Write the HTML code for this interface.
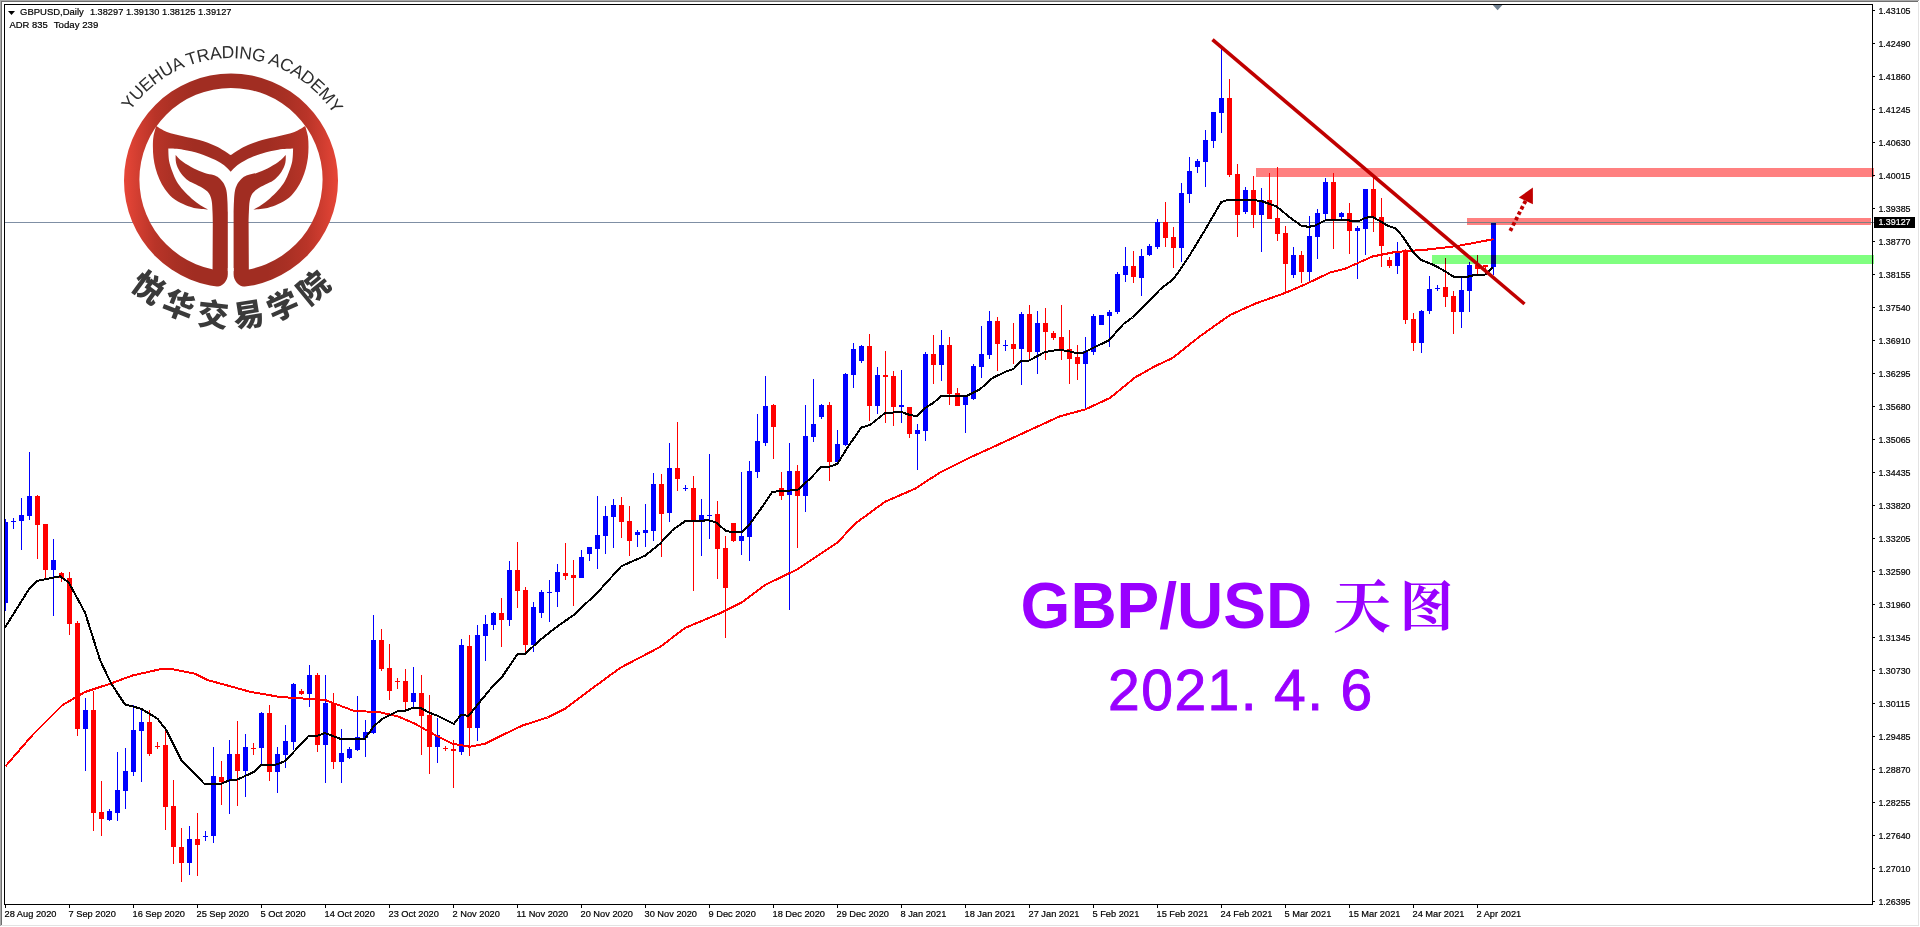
<!DOCTYPE html>
<html><head><meta charset="utf-8"><title>GBPUSD Daily</title>
<style>
html,body{margin:0;padding:0;background:#fff;overflow:hidden}
svg{display:block}
text{font-family:"Liberation Sans",sans-serif}
.ax{font-size:9.25px;fill:#000;stroke:#000;stroke-width:0.2px}
.tl{font-size:9.7px;fill:#000;stroke:#000;stroke-width:0.2px}
.cjk{font-family:"Liberation Sans","Noto Sans CJK SC",sans-serif}
.kai{font-family:"Liberation Serif","Noto Serif CJK SC",serif}
</style></head><body>
<svg width="1920" height="927" viewBox="0 0 1920 927">
<defs>
<linearGradient id="lg" gradientUnits="userSpaceOnUse" x1="124" y1="0" x2="338" y2="0"><stop offset="0" stop-color="#e74637"/><stop offset="0.07" stop-color="#d03d30"/><stop offset="0.145" stop-color="#b93428"/><stop offset="0.24" stop-color="#a93024"/><stop offset="0.33" stop-color="#a12d22"/><stop offset="0.67" stop-color="#a12d22"/><stop offset="0.76" stop-color="#a93024"/><stop offset="0.855" stop-color="#b93428"/><stop offset="0.93" stop-color="#d03d30"/><stop offset="1" stop-color="#e74637"/></linearGradient>
<path id="arcTop" d="M 108.5 180.6 A 122.5 122.5 0 0 1 353.5 180.6"/>
<path id="arcBot" d="M 84.5 180.6 A 146.5 146.5 0 0 0 377.5 180.6"/>
</defs>
<rect width="1920" height="927" fill="#fff"/>
<g shape-rendering="crispEdges">
<rect x="0" y="0" width="1919" height="1" fill="#a9a9a9"/><rect x="0" y="0" width="1" height="926" fill="#a9a9a9"/>
<rect x="1" y="1" width="1917" height="1" fill="#6e6e6e"/><rect x="1" y="1" width="1" height="924" fill="#6e6e6e"/>
<rect x="1" y="925" width="1918" height="1" fill="#e3e3e3"/><rect x="1918" y="2" width="1" height="924" fill="#e3e3e3"/>
<rect x="5" y="222" width="1869" height="1" fill="#7f8fa4"/>
<rect x="4" y="4" width="1869" height="1" fill="#000"/><rect x="4" y="4" width="1" height="901" fill="#000"/><rect x="4" y="904" width="1869" height="1" fill="#000"/><rect x="1872" y="4" width="1" height="901" fill="#000"/>
<rect x="1873" y="10" width="2" height="1" fill="#000"/><rect x="1873" y="43" width="2" height="1" fill="#000"/><rect x="1873" y="76" width="2" height="1" fill="#000"/><rect x="1873" y="109" width="2" height="1" fill="#000"/><rect x="1873" y="142" width="2" height="1" fill="#000"/><rect x="1873" y="175" width="2" height="1" fill="#000"/><rect x="1873" y="208" width="2" height="1" fill="#000"/><rect x="1873" y="241" width="2" height="1" fill="#000"/><rect x="1873" y="274" width="2" height="1" fill="#000"/><rect x="1873" y="307" width="2" height="1" fill="#000"/><rect x="1873" y="340" width="2" height="1" fill="#000"/><rect x="1873" y="373" width="2" height="1" fill="#000"/><rect x="1873" y="406" width="2" height="1" fill="#000"/><rect x="1873" y="439" width="2" height="1" fill="#000"/><rect x="1873" y="472" width="2" height="1" fill="#000"/><rect x="1873" y="505" width="2" height="1" fill="#000"/><rect x="1873" y="538" width="2" height="1" fill="#000"/><rect x="1873" y="571" width="2" height="1" fill="#000"/><rect x="1873" y="604" width="2" height="1" fill="#000"/><rect x="1873" y="637" width="2" height="1" fill="#000"/><rect x="1873" y="670" width="2" height="1" fill="#000"/><rect x="1873" y="703" width="2" height="1" fill="#000"/><rect x="1873" y="736" width="2" height="1" fill="#000"/><rect x="1873" y="769" width="2" height="1" fill="#000"/><rect x="1873" y="802" width="2" height="1" fill="#000"/><rect x="1873" y="835" width="2" height="1" fill="#000"/><rect x="1873" y="868" width="2" height="1" fill="#000"/><rect x="1873" y="901" width="2" height="1" fill="#000"/>
<rect x="5" y="905" width="1" height="3" fill="#000"/><rect x="69" y="905" width="1" height="3" fill="#000"/><rect x="133" y="905" width="1" height="3" fill="#000"/><rect x="197" y="905" width="1" height="3" fill="#000"/><rect x="261" y="905" width="1" height="3" fill="#000"/><rect x="325" y="905" width="1" height="3" fill="#000"/><rect x="389" y="905" width="1" height="3" fill="#000"/><rect x="453" y="905" width="1" height="3" fill="#000"/><rect x="517" y="905" width="1" height="3" fill="#000"/><rect x="581" y="905" width="1" height="3" fill="#000"/><rect x="645" y="905" width="1" height="3" fill="#000"/><rect x="709" y="905" width="1" height="3" fill="#000"/><rect x="773" y="905" width="1" height="3" fill="#000"/><rect x="837" y="905" width="1" height="3" fill="#000"/><rect x="901" y="905" width="1" height="3" fill="#000"/><rect x="965" y="905" width="1" height="3" fill="#000"/><rect x="1029" y="905" width="1" height="3" fill="#000"/><rect x="1093" y="905" width="1" height="3" fill="#000"/><rect x="1157" y="905" width="1" height="3" fill="#000"/><rect x="1221" y="905" width="1" height="3" fill="#000"/><rect x="1285" y="905" width="1" height="3" fill="#000"/><rect x="1349" y="905" width="1" height="3" fill="#000"/><rect x="1413" y="905" width="1" height="3" fill="#000"/><rect x="1477" y="905" width="1" height="3" fill="#000"/>
<polygon points="1492.8,5 1502.4,5 1497.6,10.3" fill="#708090" shape-rendering="auto"/>
<rect x="5" y="519" width="1" height="92" fill="#0000ff"/><rect x="5" y="522" width="3" height="81" fill="#0000ff"/><rect x="13" y="518" width="1" height="11" fill="#0000ff"/><rect x="11" y="521" width="5" height="1" fill="#0000ff"/><rect x="21" y="498" width="1" height="52" fill="#0000ff"/><rect x="19" y="515" width="5" height="6" fill="#0000ff"/><rect x="29" y="452" width="1" height="68" fill="#0000ff"/><rect x="27" y="496" width="5" height="20" fill="#0000ff"/><rect x="37" y="495" width="1" height="64" fill="#ff0000"/><rect x="35" y="496" width="5" height="29" fill="#ff0000"/><rect x="45" y="524" width="1" height="55" fill="#ff0000"/><rect x="43" y="524" width="5" height="46" fill="#ff0000"/>
<rect x="53" y="539" width="1" height="77" fill="#0000ff"/><rect x="51" y="560" width="5" height="10" fill="#0000ff"/><rect x="61" y="572" width="1" height="10" fill="#ff0000"/><rect x="59" y="573" width="5" height="5" fill="#ff0000"/><rect x="69" y="572" width="1" height="63" fill="#ff0000"/><rect x="67" y="578" width="5" height="46" fill="#ff0000"/><rect x="77" y="621" width="1" height="115" fill="#ff0000"/><rect x="75" y="623" width="5" height="106" fill="#ff0000"/><rect x="85" y="698" width="1" height="73" fill="#0000ff"/><rect x="83" y="710" width="5" height="19" fill="#0000ff"/><rect x="93" y="691" width="1" height="140" fill="#ff0000"/><rect x="91" y="710" width="5" height="103" fill="#ff0000"/>
<rect x="101" y="781" width="1" height="55" fill="#ff0000"/><rect x="99" y="812" width="5" height="7" fill="#ff0000"/><rect x="109" y="809" width="1" height="12" fill="#0000ff"/><rect x="107" y="811" width="5" height="9" fill="#0000ff"/><rect x="117" y="752" width="1" height="69" fill="#0000ff"/><rect x="115" y="790" width="5" height="23" fill="#0000ff"/><rect x="125" y="748" width="1" height="61" fill="#0000ff"/><rect x="123" y="771" width="5" height="20" fill="#0000ff"/><rect x="133" y="705" width="1" height="71" fill="#0000ff"/><rect x="131" y="730" width="5" height="42" fill="#0000ff"/><rect x="141" y="708" width="1" height="74" fill="#0000ff"/><rect x="139" y="722" width="5" height="9" fill="#0000ff"/>
<rect x="149" y="710" width="1" height="46" fill="#ff0000"/><rect x="147" y="722" width="5" height="32" fill="#ff0000"/><rect x="157" y="742" width="1" height="7" fill="#ff0000"/><rect x="155" y="746" width="5" height="1" fill="#ff0000"/><rect x="165" y="731" width="1" height="99" fill="#ff0000"/><rect x="163" y="745" width="5" height="62" fill="#ff0000"/><rect x="173" y="780" width="1" height="84" fill="#ff0000"/><rect x="171" y="806" width="5" height="41" fill="#ff0000"/><rect x="181" y="828" width="1" height="54" fill="#ff0000"/><rect x="179" y="847" width="5" height="16" fill="#ff0000"/><rect x="189" y="826" width="1" height="49" fill="#0000ff"/><rect x="187" y="839" width="5" height="24" fill="#0000ff"/>
<rect x="197" y="813" width="1" height="63" fill="#ff0000"/><rect x="195" y="839" width="5" height="6" fill="#ff0000"/><rect x="205" y="831" width="1" height="10" fill="#0000ff"/><rect x="203" y="836" width="5" height="1" fill="#0000ff"/><rect x="213" y="747" width="1" height="96" fill="#0000ff"/><rect x="211" y="776" width="5" height="60" fill="#0000ff"/><rect x="221" y="761" width="1" height="44" fill="#ff0000"/><rect x="219" y="777" width="5" height="5" fill="#ff0000"/><rect x="229" y="740" width="1" height="74" fill="#0000ff"/><rect x="227" y="754" width="5" height="26" fill="#0000ff"/><rect x="237" y="721" width="1" height="85" fill="#ff0000"/><rect x="235" y="754" width="5" height="17" fill="#ff0000"/>
<rect x="245" y="734" width="1" height="63" fill="#0000ff"/><rect x="243" y="747" width="5" height="24" fill="#0000ff"/><rect x="253" y="743" width="1" height="12" fill="#ff0000"/><rect x="251" y="748" width="5" height="1" fill="#ff0000"/><rect x="261" y="712" width="1" height="53" fill="#0000ff"/><rect x="259" y="713" width="5" height="35" fill="#0000ff"/><rect x="269" y="705" width="1" height="76" fill="#ff0000"/><rect x="267" y="713" width="5" height="59" fill="#ff0000"/><rect x="277" y="747" width="1" height="46" fill="#0000ff"/><rect x="275" y="754" width="5" height="18" fill="#0000ff"/><rect x="285" y="725" width="1" height="43" fill="#0000ff"/><rect x="283" y="741" width="5" height="14" fill="#0000ff"/>
<rect x="293" y="683" width="1" height="67" fill="#0000ff"/><rect x="291" y="684" width="5" height="58" fill="#0000ff"/><rect x="301" y="689" width="1" height="6" fill="#ff0000"/><rect x="299" y="691" width="5" height="3" fill="#ff0000"/><rect x="309" y="665" width="1" height="42" fill="#0000ff"/><rect x="307" y="675" width="5" height="19" fill="#0000ff"/><rect x="317" y="673" width="1" height="79" fill="#ff0000"/><rect x="315" y="675" width="5" height="70" fill="#ff0000"/><rect x="325" y="675" width="1" height="108" fill="#0000ff"/><rect x="323" y="703" width="5" height="42" fill="#0000ff"/><rect x="333" y="693" width="1" height="76" fill="#ff0000"/><rect x="331" y="703" width="5" height="59" fill="#ff0000"/>
<rect x="341" y="729" width="1" height="54" fill="#0000ff"/><rect x="339" y="753" width="5" height="9" fill="#0000ff"/><rect x="349" y="747" width="1" height="12" fill="#0000ff"/><rect x="347" y="749" width="5" height="9" fill="#0000ff"/><rect x="357" y="696" width="1" height="55" fill="#0000ff"/><rect x="355" y="737" width="5" height="13" fill="#0000ff"/><rect x="365" y="720" width="1" height="37" fill="#0000ff"/><rect x="363" y="732" width="5" height="6" fill="#0000ff"/><rect x="373" y="615" width="1" height="119" fill="#0000ff"/><rect x="371" y="640" width="5" height="93" fill="#0000ff"/><rect x="381" y="629" width="1" height="42" fill="#ff0000"/><rect x="379" y="640" width="5" height="29" fill="#ff0000"/>
<rect x="389" y="644" width="1" height="56" fill="#ff0000"/><rect x="387" y="668" width="5" height="23" fill="#ff0000"/><rect x="397" y="678" width="1" height="11" fill="#ff0000"/><rect x="395" y="681" width="5" height="1" fill="#ff0000"/><rect x="405" y="669" width="1" height="41" fill="#ff0000"/><rect x="403" y="681" width="5" height="21" fill="#ff0000"/><rect x="413" y="667" width="1" height="41" fill="#0000ff"/><rect x="411" y="693" width="5" height="9" fill="#0000ff"/><rect x="421" y="675" width="1" height="80" fill="#ff0000"/><rect x="419" y="693" width="5" height="23" fill="#ff0000"/><rect x="429" y="695" width="1" height="79" fill="#ff0000"/><rect x="427" y="715" width="5" height="32" fill="#ff0000"/>
<rect x="437" y="718" width="1" height="45" fill="#0000ff"/><rect x="435" y="735" width="5" height="12" fill="#0000ff"/><rect x="445" y="746" width="1" height="5" fill="#ff0000"/><rect x="443" y="748" width="5" height="1" fill="#ff0000"/><rect x="453" y="740" width="1" height="48" fill="#ff0000"/><rect x="451" y="749" width="5" height="2" fill="#ff0000"/><rect x="461" y="639" width="1" height="116" fill="#0000ff"/><rect x="459" y="645" width="5" height="107" fill="#0000ff"/><rect x="469" y="635" width="1" height="121" fill="#ff0000"/><rect x="467" y="646" width="5" height="82" fill="#ff0000"/><rect x="477" y="625" width="1" height="116" fill="#0000ff"/><rect x="475" y="635" width="5" height="93" fill="#0000ff"/>
<rect x="485" y="615" width="1" height="46" fill="#0000ff"/><rect x="483" y="624" width="5" height="12" fill="#0000ff"/><rect x="493" y="612" width="1" height="18" fill="#0000ff"/><rect x="491" y="613" width="5" height="12" fill="#0000ff"/><rect x="501" y="598" width="1" height="49" fill="#ff0000"/><rect x="499" y="613" width="5" height="7" fill="#ff0000"/><rect x="509" y="561" width="1" height="65" fill="#0000ff"/><rect x="507" y="570" width="5" height="50" fill="#0000ff"/><rect x="517" y="542" width="1" height="66" fill="#ff0000"/><rect x="515" y="570" width="5" height="21" fill="#ff0000"/><rect x="525" y="587" width="1" height="65" fill="#ff0000"/><rect x="523" y="590" width="5" height="55" fill="#ff0000"/>
<rect x="533" y="602" width="1" height="50" fill="#0000ff"/><rect x="531" y="607" width="5" height="38" fill="#0000ff"/><rect x="541" y="590" width="1" height="28" fill="#0000ff"/><rect x="539" y="592" width="5" height="21" fill="#0000ff"/><rect x="549" y="580" width="1" height="42" fill="#0000ff"/><rect x="547" y="592" width="5" height="1" fill="#0000ff"/><rect x="557" y="564" width="1" height="43" fill="#0000ff"/><rect x="555" y="572" width="5" height="20" fill="#0000ff"/><rect x="565" y="543" width="1" height="37" fill="#ff0000"/><rect x="563" y="573" width="5" height="3" fill="#ff0000"/><rect x="573" y="560" width="1" height="46" fill="#ff0000"/><rect x="571" y="575" width="5" height="3" fill="#ff0000"/>
<rect x="581" y="550" width="1" height="28" fill="#0000ff"/><rect x="579" y="557" width="5" height="21" fill="#0000ff"/><rect x="589" y="547" width="1" height="14" fill="#0000ff"/><rect x="587" y="547" width="5" height="7" fill="#0000ff"/><rect x="597" y="496" width="1" height="73" fill="#0000ff"/><rect x="595" y="535" width="5" height="14" fill="#0000ff"/><rect x="605" y="506" width="1" height="48" fill="#0000ff"/><rect x="603" y="516" width="5" height="20" fill="#0000ff"/><rect x="613" y="499" width="1" height="49" fill="#0000ff"/><rect x="611" y="505" width="5" height="12" fill="#0000ff"/><rect x="621" y="497" width="1" height="41" fill="#ff0000"/><rect x="619" y="505" width="5" height="17" fill="#ff0000"/>
<rect x="629" y="506" width="1" height="50" fill="#ff0000"/><rect x="627" y="521" width="5" height="20" fill="#ff0000"/><rect x="637" y="530" width="1" height="17" fill="#0000ff"/><rect x="635" y="532" width="5" height="3" fill="#0000ff"/><rect x="645" y="504" width="1" height="43" fill="#0000ff"/><rect x="643" y="530" width="5" height="3" fill="#0000ff"/><rect x="653" y="473" width="1" height="68" fill="#0000ff"/><rect x="651" y="484" width="5" height="47" fill="#0000ff"/><rect x="661" y="474" width="1" height="83" fill="#ff0000"/><rect x="659" y="484" width="5" height="30" fill="#ff0000"/><rect x="669" y="443" width="1" height="79" fill="#0000ff"/><rect x="667" y="468" width="5" height="45" fill="#0000ff"/>
<rect x="677" y="422" width="1" height="69" fill="#ff0000"/><rect x="675" y="468" width="5" height="11" fill="#ff0000"/><rect x="685" y="485" width="1" height="6" fill="#0000ff"/><rect x="683" y="488" width="5" height="1" fill="#0000ff"/><rect x="693" y="476" width="1" height="115" fill="#ff0000"/><rect x="691" y="488" width="5" height="33" fill="#ff0000"/><rect x="701" y="499" width="1" height="57" fill="#0000ff"/><rect x="699" y="515" width="5" height="6" fill="#0000ff"/><rect x="709" y="454" width="1" height="85" fill="#0000ff"/><rect x="707" y="515" width="5" height="1" fill="#0000ff"/><rect x="717" y="501" width="1" height="78" fill="#ff0000"/><rect x="715" y="514" width="5" height="35" fill="#ff0000"/>
<rect x="725" y="536" width="1" height="102" fill="#ff0000"/><rect x="723" y="548" width="5" height="40" fill="#ff0000"/><rect x="733" y="523" width="1" height="19" fill="#ff0000"/><rect x="731" y="523" width="5" height="18" fill="#ff0000"/><rect x="741" y="472" width="1" height="83" fill="#0000ff"/><rect x="739" y="536" width="5" height="5" fill="#0000ff"/><rect x="749" y="461" width="1" height="100" fill="#0000ff"/><rect x="747" y="471" width="5" height="66" fill="#0000ff"/><rect x="757" y="414" width="1" height="64" fill="#0000ff"/><rect x="755" y="441" width="5" height="31" fill="#0000ff"/><rect x="765" y="376" width="1" height="70" fill="#0000ff"/><rect x="763" y="406" width="5" height="37" fill="#0000ff"/>
<rect x="773" y="404" width="1" height="55" fill="#ff0000"/><rect x="771" y="405" width="5" height="22" fill="#ff0000"/><rect x="781" y="472" width="1" height="28" fill="#ff0000"/><rect x="779" y="488" width="5" height="8" fill="#ff0000"/><rect x="789" y="443" width="1" height="167" fill="#0000ff"/><rect x="787" y="471" width="5" height="24" fill="#0000ff"/><rect x="797" y="465" width="1" height="83" fill="#ff0000"/><rect x="795" y="471" width="5" height="25" fill="#ff0000"/><rect x="805" y="405" width="1" height="107" fill="#0000ff"/><rect x="803" y="436" width="5" height="60" fill="#0000ff"/><rect x="813" y="379" width="1" height="63" fill="#0000ff"/><rect x="811" y="424" width="5" height="13" fill="#0000ff"/>
<rect x="821" y="404" width="1" height="15" fill="#0000ff"/><rect x="819" y="405" width="5" height="12" fill="#0000ff"/><rect x="829" y="402" width="1" height="79" fill="#ff0000"/><rect x="827" y="405" width="5" height="57" fill="#ff0000"/><rect x="837" y="430" width="1" height="33" fill="#0000ff"/><rect x="835" y="444" width="5" height="18" fill="#0000ff"/><rect x="845" y="373" width="1" height="73" fill="#0000ff"/><rect x="843" y="374" width="5" height="71" fill="#0000ff"/><rect x="853" y="343" width="1" height="45" fill="#0000ff"/><rect x="851" y="349" width="5" height="26" fill="#0000ff"/><rect x="861" y="345" width="1" height="18" fill="#0000ff"/><rect x="859" y="346" width="5" height="15" fill="#0000ff"/>
<rect x="869" y="334" width="1" height="87" fill="#ff0000"/><rect x="867" y="346" width="5" height="60" fill="#ff0000"/><rect x="877" y="367" width="1" height="47" fill="#0000ff"/><rect x="875" y="375" width="5" height="31" fill="#0000ff"/><rect x="885" y="351" width="1" height="72" fill="#ff0000"/><rect x="883" y="375" width="5" height="2" fill="#ff0000"/><rect x="893" y="371" width="1" height="55" fill="#ff0000"/><rect x="891" y="376" width="5" height="31" fill="#ff0000"/><rect x="901" y="370" width="1" height="53" fill="#0000ff"/><rect x="899" y="405" width="5" height="2" fill="#0000ff"/><rect x="909" y="407" width="1" height="31" fill="#ff0000"/><rect x="907" y="407" width="5" height="27" fill="#ff0000"/>
<rect x="917" y="424" width="1" height="46" fill="#0000ff"/><rect x="915" y="430" width="5" height="4" fill="#0000ff"/><rect x="925" y="352" width="1" height="89" fill="#0000ff"/><rect x="923" y="354" width="5" height="77" fill="#0000ff"/><rect x="933" y="335" width="1" height="49" fill="#ff0000"/><rect x="931" y="354" width="5" height="11" fill="#ff0000"/><rect x="941" y="330" width="1" height="51" fill="#0000ff"/><rect x="939" y="345" width="5" height="20" fill="#0000ff"/><rect x="949" y="337" width="1" height="68" fill="#ff0000"/><rect x="947" y="345" width="5" height="49" fill="#ff0000"/><rect x="957" y="388" width="1" height="18" fill="#ff0000"/><rect x="955" y="393" width="5" height="13" fill="#ff0000"/>
<rect x="965" y="395" width="1" height="38" fill="#0000ff"/><rect x="963" y="395" width="5" height="10" fill="#0000ff"/><rect x="973" y="364" width="1" height="36" fill="#0000ff"/><rect x="971" y="366" width="5" height="33" fill="#0000ff"/><rect x="981" y="326" width="1" height="52" fill="#0000ff"/><rect x="979" y="354" width="5" height="13" fill="#0000ff"/><rect x="989" y="311" width="1" height="48" fill="#0000ff"/><rect x="987" y="321" width="5" height="34" fill="#0000ff"/><rect x="997" y="317" width="1" height="54" fill="#ff0000"/><rect x="995" y="321" width="5" height="23" fill="#ff0000"/><rect x="1005" y="340" width="1" height="11" fill="#0000ff"/><rect x="1003" y="345" width="5" height="1" fill="#0000ff"/>
<rect x="1013" y="323" width="1" height="41" fill="#ff0000"/><rect x="1011" y="344" width="5" height="5" fill="#ff0000"/><rect x="1021" y="312" width="1" height="73" fill="#0000ff"/><rect x="1019" y="314" width="5" height="35" fill="#0000ff"/><rect x="1029" y="305" width="1" height="55" fill="#ff0000"/><rect x="1027" y="314" width="5" height="38" fill="#ff0000"/><rect x="1037" y="311" width="1" height="63" fill="#0000ff"/><rect x="1035" y="323" width="5" height="29" fill="#0000ff"/><rect x="1045" y="308" width="1" height="52" fill="#ff0000"/><rect x="1043" y="323" width="5" height="9" fill="#ff0000"/><rect x="1053" y="331" width="1" height="9" fill="#ff0000"/><rect x="1051" y="333" width="5" height="5" fill="#ff0000"/>
<rect x="1061" y="305" width="1" height="55" fill="#ff0000"/><rect x="1059" y="337" width="5" height="13" fill="#ff0000"/><rect x="1069" y="330" width="1" height="54" fill="#ff0000"/><rect x="1067" y="349" width="5" height="10" fill="#ff0000"/><rect x="1077" y="345" width="1" height="35" fill="#ff0000"/><rect x="1075" y="357" width="5" height="7" fill="#ff0000"/><rect x="1085" y="337" width="1" height="71" fill="#0000ff"/><rect x="1083" y="351" width="5" height="13" fill="#0000ff"/><rect x="1093" y="314" width="1" height="41" fill="#0000ff"/><rect x="1091" y="316" width="5" height="36" fill="#0000ff"/><rect x="1101" y="315" width="1" height="10" fill="#0000ff"/><rect x="1099" y="315" width="5" height="10" fill="#0000ff"/>
<rect x="1109" y="310" width="1" height="37" fill="#0000ff"/><rect x="1107" y="312" width="5" height="4" fill="#0000ff"/><rect x="1117" y="272" width="1" height="42" fill="#0000ff"/><rect x="1115" y="274" width="5" height="38" fill="#0000ff"/><rect x="1125" y="247" width="1" height="35" fill="#0000ff"/><rect x="1123" y="266" width="5" height="9" fill="#0000ff"/><rect x="1133" y="251" width="1" height="32" fill="#ff0000"/><rect x="1131" y="266" width="5" height="11" fill="#ff0000"/><rect x="1141" y="249" width="1" height="47" fill="#0000ff"/><rect x="1139" y="256" width="5" height="22" fill="#0000ff"/><rect x="1149" y="244" width="1" height="12" fill="#0000ff"/><rect x="1147" y="246" width="5" height="9" fill="#0000ff"/>
<rect x="1157" y="219" width="1" height="30" fill="#0000ff"/><rect x="1155" y="222" width="5" height="25" fill="#0000ff"/><rect x="1165" y="202" width="1" height="45" fill="#ff0000"/><rect x="1163" y="222" width="5" height="16" fill="#ff0000"/><rect x="1173" y="227" width="1" height="41" fill="#ff0000"/><rect x="1171" y="237" width="5" height="11" fill="#ff0000"/><rect x="1181" y="183" width="1" height="79" fill="#0000ff"/><rect x="1179" y="193" width="5" height="55" fill="#0000ff"/><rect x="1189" y="157" width="1" height="46" fill="#0000ff"/><rect x="1187" y="171" width="5" height="23" fill="#0000ff"/><rect x="1197" y="159" width="1" height="14" fill="#0000ff"/><rect x="1195" y="161" width="5" height="6" fill="#0000ff"/>
<rect x="1205" y="130" width="1" height="57" fill="#0000ff"/><rect x="1203" y="140" width="5" height="22" fill="#0000ff"/><rect x="1213" y="112" width="1" height="36" fill="#0000ff"/><rect x="1211" y="112" width="5" height="29" fill="#0000ff"/><rect x="1221" y="49" width="1" height="84" fill="#0000ff"/><rect x="1219" y="98" width="5" height="15" fill="#0000ff"/><rect x="1229" y="79" width="1" height="98" fill="#ff0000"/><rect x="1227" y="98" width="5" height="77" fill="#ff0000"/><rect x="1237" y="164" width="1" height="73" fill="#ff0000"/><rect x="1235" y="174" width="5" height="41" fill="#ff0000"/><rect x="1245" y="187" width="1" height="27" fill="#0000ff"/><rect x="1243" y="190" width="5" height="22" fill="#0000ff"/>
<rect x="1253" y="176" width="1" height="52" fill="#ff0000"/><rect x="1251" y="190" width="5" height="25" fill="#ff0000"/><rect x="1261" y="188" width="1" height="64" fill="#0000ff"/><rect x="1259" y="200" width="5" height="15" fill="#0000ff"/><rect x="1269" y="173" width="1" height="46" fill="#ff0000"/><rect x="1267" y="200" width="5" height="19" fill="#ff0000"/><rect x="1277" y="167" width="1" height="74" fill="#ff0000"/><rect x="1275" y="218" width="5" height="16" fill="#ff0000"/><rect x="1285" y="226" width="1" height="67" fill="#ff0000"/><rect x="1283" y="233" width="5" height="31" fill="#ff0000"/><rect x="1293" y="247" width="1" height="31" fill="#0000ff"/><rect x="1291" y="255" width="5" height="20" fill="#0000ff"/>
<rect x="1301" y="251" width="1" height="32" fill="#ff0000"/><rect x="1299" y="255" width="5" height="17" fill="#ff0000"/><rect x="1309" y="216" width="1" height="66" fill="#0000ff"/><rect x="1307" y="236" width="5" height="36" fill="#0000ff"/><rect x="1317" y="209" width="1" height="50" fill="#0000ff"/><rect x="1315" y="213" width="5" height="24" fill="#0000ff"/><rect x="1325" y="178" width="1" height="42" fill="#0000ff"/><rect x="1323" y="182" width="5" height="32" fill="#0000ff"/><rect x="1333" y="173" width="1" height="76" fill="#ff0000"/><rect x="1331" y="182" width="5" height="38" fill="#ff0000"/><rect x="1341" y="212" width="1" height="7" fill="#0000ff"/><rect x="1339" y="213" width="5" height="4" fill="#0000ff"/>
<rect x="1349" y="203" width="1" height="51" fill="#ff0000"/><rect x="1347" y="213" width="5" height="18" fill="#ff0000"/><rect x="1357" y="226" width="1" height="53" fill="#0000ff"/><rect x="1355" y="228" width="5" height="3" fill="#0000ff"/><rect x="1365" y="189" width="1" height="66" fill="#0000ff"/><rect x="1363" y="189" width="5" height="40" fill="#0000ff"/><rect x="1373" y="175" width="1" height="57" fill="#ff0000"/><rect x="1371" y="189" width="5" height="28" fill="#ff0000"/><rect x="1381" y="198" width="1" height="69" fill="#ff0000"/><rect x="1379" y="217" width="5" height="29" fill="#ff0000"/><rect x="1389" y="257" width="1" height="11" fill="#ff0000"/><rect x="1387" y="260" width="5" height="6" fill="#ff0000"/>
<rect x="1397" y="242" width="1" height="32" fill="#0000ff"/><rect x="1395" y="252" width="5" height="14" fill="#0000ff"/><rect x="1405" y="249" width="1" height="75" fill="#ff0000"/><rect x="1403" y="250" width="5" height="70" fill="#ff0000"/><rect x="1413" y="313" width="1" height="38" fill="#ff0000"/><rect x="1411" y="319" width="5" height="24" fill="#ff0000"/><rect x="1421" y="310" width="1" height="43" fill="#0000ff"/><rect x="1419" y="311" width="5" height="32" fill="#0000ff"/><rect x="1429" y="276" width="1" height="38" fill="#0000ff"/><rect x="1427" y="289" width="5" height="22" fill="#0000ff"/><rect x="1437" y="285" width="1" height="6" fill="#0000ff"/><rect x="1435" y="288" width="5" height="1" fill="#0000ff"/>
<rect x="1445" y="258" width="1" height="49" fill="#ff0000"/><rect x="1443" y="287" width="5" height="10" fill="#ff0000"/><rect x="1453" y="291" width="1" height="43" fill="#ff0000"/><rect x="1451" y="296" width="5" height="16" fill="#ff0000"/><rect x="1461" y="278" width="1" height="50" fill="#0000ff"/><rect x="1459" y="290" width="5" height="22" fill="#0000ff"/><rect x="1469" y="262" width="1" height="50" fill="#0000ff"/><rect x="1467" y="265" width="5" height="26" fill="#0000ff"/><rect x="1477" y="255" width="1" height="19" fill="#ff0000"/><rect x="1475" y="265" width="5" height="4" fill="#ff0000"/><rect x="1485" y="265" width="1" height="8" fill="#ff0000"/><rect x="1483" y="265" width="5" height="2" fill="#ff0000"/>
<rect x="1493" y="222" width="1" height="53" fill="#0000ff"/><rect x="1491" y="222" width="5" height="45" fill="#0000ff"/>
<polyline points="5.5,766.25 32.5,735 62.5,705 85,692 110,683.75 132.5,675.5 160,669.25 172.5,669.25 195,673.75 207.5,680 250,691.75 280,697 325,700 355,711.25 377.5,711.75 397.5,716.25 415,723.75 435,735 452.5,743.75 470,746.75 485,743.75 502.5,735 522.5,725.5 547.5,717.5 565,708.75 590,690 620,668 660,647 685,628 720,613.25 742.5,602 765,585 797.5,569.25 837.5,542.5 855,523.75 885,501.75 915,488.75 940,472.5 970,457.5 997.5,445 1030,430 1060,416.25 1085,409.5 1110,398 1135,377.5 1155,366.25 1172.5,358 1200,336.25 1230,315 1255,303.75 1285,293 1305,284.5 1330,272.5 1345,268.75 1372.5,256.5 1395,252 1425,249.8 1457.5,246 1493.5,239.2" fill="none" stroke="#ff0000" stroke-width="2" stroke-linejoin="round"/>
<polyline points="5,627.5 28.75,589.5 37.5,580.75 60,576.25 68.75,582.5 85,612.5 100,660 111.25,683.75 125,704.5 141.25,708.75 157.5,718.75 166.25,730 181.25,760 205,784.5 221.25,783.75 228.75,780.5 237.5,779.5 253.75,772 261.25,765 275,765 285,761.25 308.75,735.75 317.5,735.75 325,733 340,738.75 365,738.75 373.75,726.25 382.5,718.75 397.5,711.25 405,710.75 412.5,708 420,707.5 428.75,712.5 437.5,715.75 453.75,724 460.75,715 468.75,715.75 476.25,706.25 490,689.5 502.5,676.25 517.5,654 525,654 540,640 557.5,626.25 573.75,615 597.5,592.5 621.25,566.25 645,555.75 660,543.75 672.5,530 685,521.25 700,521.25 707.5,520 716.25,522.5 726.25,531.25 741.25,532.5 750,523.75 760,510 772.5,491.75 797.5,490 810,478.75 821.25,467 828.75,467 837.5,463.75 847.5,447.5 861.25,427.5 870,425 885,413 901.25,412 910,415 917,416.25 925,408.25 933.75,402.5 942,395.5 955,396 966.25,396.25 980,389.25 992.5,378 1005,372 1013.75,368.75 1021.25,360.75 1028.75,360.75 1045,352 1057.5,350 1067.5,350.75 1075,352.75 1083.75,352.75 1093.75,347.5 1108.75,340.5 1123.75,323.75 1132.5,317.5 1150,300 1160,289.5 1173.75,278.75 1187.5,258.75 1205,230 1221.25,202 1227.5,200 1240,200 1260,200.6 1276.25,206.25 1290,217.5 1301.25,225.6 1308.75,226.9 1315,225.6 1326.25,219.75 1348.75,219.75 1350.6,221.25 1358.75,221.25 1365,218.1 1370,216.9 1373.75,217.5 1387.5,225.6 1396.25,228.75 1402.5,236.25 1412.5,251.25 1421.25,260 1433.75,265 1445,271.25 1453.75,276.75 1467.5,276.75 1472.5,275.5 1485,274.5 1493,267.5" fill="none" stroke="#000000" stroke-width="2" stroke-linejoin="round"/>
</g>
<g style="mix-blend-mode:multiply" shape-rendering="crispEdges">
<rect x="1256" y="168" width="618" height="9" fill="#ff8080"/>
<rect x="1467" y="218" width="404" height="7" fill="#ff8080"/>
<rect x="1432" y="255" width="442" height="9" fill="#80ff80"/>
</g>
<rect x="1467" y="222" width="405" height="1" fill="#7f7f7f" shape-rendering="crispEdges"/>
<line x1="1212.5" y1="39.6" x2="1524.5" y2="304" stroke="#c00000" stroke-width="3.6"/>
<line x1="1510.2" y1="230.9" x2="1525.8" y2="200.4" stroke="#c00000" stroke-width="3.8" stroke-dasharray="3.5 2.56"/>
<polygon points="1532.9,187.6 1518.8,197.4 1532.9,204.3" fill="#c00000"/>
<rect x="1874" y="217" width="41" height="11" fill="#000" shape-rendering="crispEdges"/>
<text class="ax" transform="translate(1878.4,225.2) scale(.962,1)" style="fill:#fff;stroke:#fff">1.39127</text>
<text class="ax" transform="translate(1878.4,13.55) scale(.962,1)">1.43105</text><text class="ax" transform="translate(1878.4,46.55) scale(.962,1)">1.42490</text><text class="ax" transform="translate(1878.4,79.55) scale(.962,1)">1.41860</text><text class="ax" transform="translate(1878.4,112.55) scale(.962,1)">1.41245</text>
<text class="ax" transform="translate(1878.4,145.55) scale(.962,1)">1.40630</text><text class="ax" transform="translate(1878.4,178.55) scale(.962,1)">1.40015</text><text class="ax" transform="translate(1878.4,211.55) scale(.962,1)">1.39385</text><text class="ax" transform="translate(1878.4,244.55) scale(.962,1)">1.38770</text>
<text class="ax" transform="translate(1878.4,277.55) scale(.962,1)">1.38155</text><text class="ax" transform="translate(1878.4,310.55) scale(.962,1)">1.37540</text><text class="ax" transform="translate(1878.4,343.55) scale(.962,1)">1.36910</text><text class="ax" transform="translate(1878.4,376.55) scale(.962,1)">1.36295</text>
<text class="ax" transform="translate(1878.4,409.55) scale(.962,1)">1.35680</text><text class="ax" transform="translate(1878.4,442.55) scale(.962,1)">1.35065</text><text class="ax" transform="translate(1878.4,475.55) scale(.962,1)">1.34435</text><text class="ax" transform="translate(1878.4,508.55) scale(.962,1)">1.33820</text>
<text class="ax" transform="translate(1878.4,541.55) scale(.962,1)">1.33205</text><text class="ax" transform="translate(1878.4,574.55) scale(.962,1)">1.32590</text><text class="ax" transform="translate(1878.4,607.55) scale(.962,1)">1.31960</text><text class="ax" transform="translate(1878.4,640.55) scale(.962,1)">1.31345</text>
<text class="ax" transform="translate(1878.4,673.55) scale(.962,1)">1.30730</text><text class="ax" transform="translate(1878.4,706.55) scale(.962,1)">1.30115</text><text class="ax" transform="translate(1878.4,739.55) scale(.962,1)">1.29485</text><text class="ax" transform="translate(1878.4,772.55) scale(.962,1)">1.28870</text>
<text class="ax" transform="translate(1878.4,805.55) scale(.962,1)">1.28255</text><text class="ax" transform="translate(1878.4,838.55) scale(.962,1)">1.27640</text><text class="ax" transform="translate(1878.4,871.55) scale(.962,1)">1.27010</text><text class="ax" transform="translate(1878.4,904.55) scale(.962,1)">1.26395</text>

<text class="ax" transform="translate(4.5,916.6)">28 Aug 2020</text><text class="ax" transform="translate(68.5,916.6)">7 Sep 2020</text><text class="ax" transform="translate(132.5,916.6)">16 Sep 2020</text><text class="ax" transform="translate(196.5,916.6)">25 Sep 2020</text>
<text class="ax" transform="translate(260.5,916.6)">5 Oct 2020</text><text class="ax" transform="translate(324.5,916.6)">14 Oct 2020</text><text class="ax" transform="translate(388.5,916.6)">23 Oct 2020</text><text class="ax" transform="translate(452.5,916.6)">2 Nov 2020</text>
<text class="ax" transform="translate(516.5,916.6)">11 Nov 2020</text><text class="ax" transform="translate(580.5,916.6)">20 Nov 2020</text><text class="ax" transform="translate(644.5,916.6)">30 Nov 2020</text><text class="ax" transform="translate(708.5,916.6)">9 Dec 2020</text>
<text class="ax" transform="translate(772.5,916.6)">18 Dec 2020</text><text class="ax" transform="translate(836.5,916.6)">29 Dec 2020</text><text class="ax" transform="translate(900.5,916.6)">8 Jan 2021</text><text class="ax" transform="translate(964.5,916.6)">18 Jan 2021</text>
<text class="ax" transform="translate(1028.5,916.6)">27 Jan 2021</text><text class="ax" transform="translate(1092.5,916.6)">5 Feb 2021</text><text class="ax" transform="translate(1156.5,916.6)">15 Feb 2021</text><text class="ax" transform="translate(1220.5,916.6)">24 Feb 2021</text>
<text class="ax" transform="translate(1284.5,916.6)">5 Mar 2021</text><text class="ax" transform="translate(1348.5,916.6)">15 Mar 2021</text><text class="ax" transform="translate(1412.5,916.6)">24 Mar 2021</text><text class="ax" transform="translate(1476.5,916.6)">2 Apr 2021</text>

<polygon points="8,11 15,11 11.5,15" fill="#000"/>
<text class="tl" x="20" y="15.2" textLength="63.8" lengthAdjust="spacingAndGlyphs">GBPUSD,Daily</text><text class="tl" x="89.9" y="15.2" textLength="33.4" lengthAdjust="spacingAndGlyphs">1.38297</text><text class="tl" x="125.95" y="15.2" textLength="33.4" lengthAdjust="spacingAndGlyphs">1.39130</text><text class="tl" x="162.0" y="15.2" textLength="33.4" lengthAdjust="spacingAndGlyphs">1.38125</text><text class="tl" x="198.05" y="15.2" textLength="33.4" lengthAdjust="spacingAndGlyphs">1.39127</text>
<text class="tl" x="9.5" y="28.4" textLength="38.2" lengthAdjust="spacingAndGlyphs">ADR 835</text><text class="tl" x="53.7" y="28.4" textLength="44.6" lengthAdjust="spacingAndGlyphs">Today 239</text>
<g id="logo">
<path fill="url(#lg)" fill-rule="evenodd" d="M124 180.6a107 107 0 1 0 214 0a107 107 0 1 0 -214 0ZM139.4 179.5a91.6 91.6 0 1 0 183.2 0a91.6 91.6 0 1 0 -183.2 0Z"/>
<path fill="url(#lg)" d="M230.7 155.1C229.6 154.4 226.6 152.2 224.1 150.7C221.6 149.2 219.6 147.7 215.5 145.9C211.4 144.1 204.7 141.6 199.3 140C193.9 138.4 188.5 137.5 183.1 136.2C177.7 134.8 171.5 133.6 167 131.9C162.5 130.2 158 126.9 156.2 125.9C155.8 127.6 154.1 132.7 153.5 136.2C152.9 139.7 152.9 143.4 152.9 147C152.9 150.6 153.1 154.2 153.5 157.8C153.9 161.4 154.6 164.9 155.6 168.5C156.6 172.1 157.9 175.9 159.4 179.3C160.9 182.7 162.6 185.9 164.8 189C167 192.1 169.4 195.2 172.4 197.7C175.4 200.2 179.5 202.4 183.1 204.1C186.7 205.8 189.8 207 193.9 207.9C198.1 208.8 205.7 209.2 208 209.5C206.7 208.8 203.1 207 200.4 205.2C197.7 203.4 194.7 201.2 191.8 198.7C188.9 196.2 185.6 193 183.1 190.1C180.6 187.2 178.5 184.6 176.7 181.5C174.9 178.4 173.7 175.2 172.4 171.8C171.1 168.4 169.8 164.9 169.1 161C168.4 157.1 168.4 150.7 168.3 148.6C170.8 148.8 177.9 148.9 183.1 149.7C188.3 150.5 193.9 151.7 199.3 153.4C204.7 155.1 211.4 157.9 215.5 159.9C219.6 161.9 221.6 163.3 224.1 165.3C226.6 167.3 229.6 170.7 230.7 171.8C231.8 170.7 234.8 167.3 237.3 165.3C239.8 163.3 241.8 161.9 245.9 159.9C250 157.9 256.7 155.1 262.1 153.4C267.5 151.7 273.1 150.5 278.3 149.7C283.5 148.9 290.6 148.8 293.1 148.6C293 150.7 293 157.1 292.3 161C291.6 164.9 290.3 168.4 289 171.8C287.7 175.2 286.5 178.4 284.7 181.5C282.9 184.6 280.8 187.2 278.3 190.1C275.8 193 272.5 196.2 269.6 198.7C266.7 201.2 263.7 203.4 261 205.2C258.3 207 254.7 208.8 253.4 209.5C255.7 209.2 263.4 208.8 267.5 207.9C271.6 207 274.7 205.8 278.3 204.1C281.9 202.4 285.9 200.2 289 197.7C292.1 195.2 294.4 192.1 296.6 189C298.8 185.9 300.5 182.7 302 179.3C303.5 175.9 304.8 172.1 305.8 168.5C306.8 164.9 307.4 161.4 307.9 157.8C308.3 154.2 308.5 150.6 308.5 147C308.5 143.4 308.4 139.7 307.9 136.2C307.3 132.7 305.6 127.6 305.2 125.9C303.4 126.9 298.9 130.2 294.4 131.9C289.9 133.6 283.7 134.8 278.3 136.2C272.9 137.5 267.5 138.4 262.1 140C256.7 141.6 250 144.1 245.9 145.9C241.8 147.7 239.8 149.2 237.3 150.7C234.8 152.2 231.8 154.4 230.7 155.1Z"/>
<path fill="url(#lg)" d="M175.6 155.1C176.8 156.3 180 159.9 183.1 162.1C186.2 164.3 190.3 166.7 193.9 168.5C197.5 170.3 201.4 171.8 204.7 172.9C207.9 174 211.1 174.2 213.4 175C215.7 175.8 217.1 176.4 218.7 177.7C220.3 179 221.8 180.5 223.1 182.6C224.4 184.7 225.6 187 226.3 190.1C227 193.2 227.2 197.2 227.4 200.9C227.7 204.6 227.7 210.2 227.8 212L227.8 284L212.5 284L212.8 222C212.8 220.3 212.7 215.2 212.5 211.7C212.3 208.2 212.3 203.9 211.7 200.9C211.1 197.9 210.5 195.6 209 193.4C207.5 191.2 205.1 189.6 202.6 188C200.1 186.4 196.6 185 193.9 183.6C191.2 182.2 188.7 181.3 186.4 179.3C184.1 177.3 181.6 174.5 179.9 171.8C178.2 169.1 176.8 165.9 176.1 163.1C175.4 160.3 175.7 156.4 175.6 155.1Z"/>
<path fill="url(#lg)" d="M285.8 155.1C284.5 156.3 281.3 159.9 278.3 162.1C275.2 164.3 271.1 166.7 267.5 168.5C263.9 170.3 259.9 171.8 256.7 172.9C253.4 174 250.3 174.2 248 175C245.7 175.8 244.3 176.4 242.7 177.7C241.1 179 239.6 180.5 238.3 182.6C237 184.7 235.8 187 235.1 190.1C234.4 193.2 234.2 197.2 234 200.9C233.7 204.6 233.7 210.2 233.6 212L233.6 284L248.9 284L248.6 222C248.6 220.3 248.7 215.2 248.9 211.7C249.1 208.2 249.1 203.9 249.7 200.9C250.3 197.9 250.9 195.6 252.4 193.4C253.9 191.2 256.3 189.6 258.8 188C261.3 186.4 264.8 185 267.5 183.6C270.2 182.2 272.7 181.3 275 179.3C277.3 177.3 279.8 174.5 281.5 171.8C283.2 169.1 284.6 165.9 285.3 163.1C286 160.3 285.7 156.4 285.8 155.1Z"/>
<path fill="#fff" d="M227.8 268L227.8 274.3C227.8 281.1 222.6 286.4 216.5 286.9L216.5 292L230.7 292L230.7 268ZM233.6 268L233.6 274.3C233.6 281.1 238.8 286.4 244.9 286.9L244.9 292L230.7 292L230.7 268Z"/>
<text style="font-size:17.5px;fill:#2d2d2d;letter-spacing:-0.26px" text-anchor="middle"><textPath href="#arcTop" startOffset="194.1">YUEHUA TRADING ACADEMY</textPath></text>
<text class="cjk" style="font-size:31px;font-weight:900;fill:#3a3a3a;letter-spacing:7.5px" text-anchor="middle"><textPath href="#arcBot" startOffset="233.9">悦华交易学院</textPath></text>
</g>
<text x="1020.6" y="627.5" style="font-size:64px;font-weight:bold;fill:#9900ff">GBP/USD</text>
<text class="kai" style="font-weight:700;fill:#9900ff"><tspan x="1333" y="627" style="font-size:58px">天</tspan><tspan x="1399.5" y="626" style="font-size:54px">图</tspan></text>
<text y="710" style="font-size:57px;fill:#9900ff;stroke:#9900ff;stroke-width:0.9px" x="1108 1141.2 1174.4 1207.6 1240.8 1274 1307.2 1340.4">2021.4.6</text>
</svg>
</body></html>
